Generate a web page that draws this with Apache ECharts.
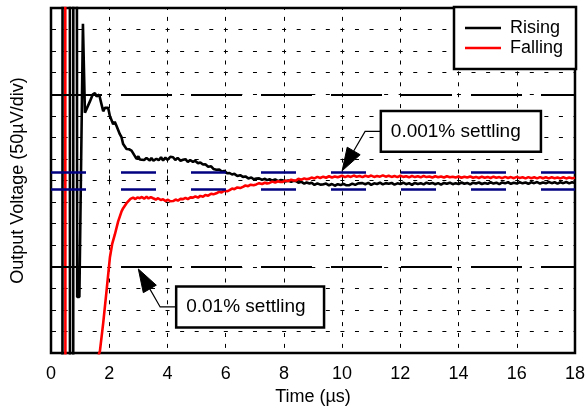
<!DOCTYPE html>
<html><head><meta charset="utf-8">
<script src="https://cdn.jsdelivr.net/npm/echarts@6/dist/echarts.min.js"></script>
<style>html,body{margin:0;padding:0;background:#fff}#c{width:588px;height:411px}</style>
</head><body><div id="c"></div>
<script>
// Time axis ticks (µs)
const xTicks = [0, 2, 4, 6, 8, 10, 12, 14, 16, 18];
// Vertical range in divisions (50 µV/div), centred on final value
const yDivs = [-8, 8];
// Settling bands (divisions)
const band001 = 0.4;   // 0.001% settling
const band01 = 4;      // 0.01% settling

const seriesNames = ['Rising', 'Falling'];

// Rising trace: [time µs, divisions]
const rising = [
 [0,-30],[0.39,-30],[0.40,30],[0.645,30],[0.655,-30],[0.76,-30],[0.77,30],[0.875,30],[0.90,-5.4],[0.975,-5.4],
 [1.097,7.27],[1.166,3.14],[1.224,3.21],[1.337,3.67],[1.43,3.98],[1.508,4.05],[1.567,3.90],[1.656,3.98],[1.738,3.52],
 [1.793,3.21],[1.851,3.37],[1.964,3.37],[2.022,2.99],[2.136,2.61],[2.19,2.72],[2.252,2.53],[2.365,2.15],[2.42,2.02],
 [2.479,1.69],[2.595,1.46],[2.68,1.45],[2.767,1.39],[2.85,1.2],[2.938,1.01],[3.0,1.12],[3.05,0.98],[3.109,1.04],
 [3.2,0.95],[3.28,1.05],[3.394,0.93],[3.45,1.05],[3.52,0.92],[3.624,1.01],[3.7,0.94],[3.78,1.08],[3.85,0.93],
 [3.93,1.06],[4.0,0.96],[4.1,1.1],[4.193,1.08],[4.27,0.95],[4.35,1.05],[4.45,0.92],[4.536,0.96],[4.62,0.99],
 [4.7,0.86],[4.78,0.95],[4.878,0.87],[4.95,0.92],[5.05,0.8],[5.13,0.84],[5.221,0.74],[5.3,0.76],[5.4,0.64],
 [5.5,0.66],[5.58,0.54],[5.68,0.5],[5.78,0.51],[5.88,0.41],[5.95,0.45],[6.05,0.34],[6.136,0.35],[6.22,0.28],
 [6.3,0.31],[6.4,0.21],[6.5,0.25],[6.592,0.17],[6.68,0.19],[6.78,0.1],[6.88,0.14],[6.96,0.06],[7.052,0.09],
 [7.15,0.1],[7.25,0.03],[7.35,0.08],[7.42,0.02],[7.508,0.06],[7.6,0.0],[7.7,0.05],[7.8,-0.03],[7.88,0.02],
 [7.964,0.01],[8.05,-0.04],[8.15,0.0],[8.25,-0.06],[8.33,-0.01],[8.423,-0.03],[8.5,-0.1],[8.6,-0.06],[8.7,-0.14],
 [8.78,-0.09],[8.879,-0.14],[8.95,-0.1],[9.05,-0.2],[9.15,-0.13],[9.25,-0.19],[9.335,-0.18],[9.45,-0.14],
 [9.55,-0.22],[9.65,-0.16],[9.75,-0.24],[9.85,-0.17],[9.95,-0.21],[10.05,-0.15],[10.15,-0.22],[10.25,-0.21],
 [10.35,-0.14],[10.45,-0.2],[10.55,-0.13],
 [10.6,-0.19],[10.7,-0.12],[10.8,-0.17],[10.9,-0.11],[11.0,-0.2],[11.1,-0.13],[11.2,-0.16],[11.3,-0.1],[11.4,-0.18],
 [11.5,-0.12],[11.6,-0.15],[11.7,-0.11],[11.8,-0.19],[11.9,-0.13],[12.0,-0.16],[12.1,-0.1],[12.2,-0.17],[12.3,-0.12],
 [12.4,-0.2],[12.5,-0.11],[12.6,-0.16],[12.7,-0.12],[12.8,-0.18],[12.9,-0.1],[13.0,-0.15],[13.1,-0.11],[13.2,-0.17],
 [13.3,-0.12],[13.4,-0.19],[13.5,-0.11],[13.6,-0.15],[13.7,-0.1],[13.8,-0.17],[13.9,-0.12],[14.0,-0.16],[14.1,-0.09],
 [14.2,-0.15],[14.3,-0.11],[14.4,-0.18],[14.5,-0.1],[14.6,-0.14],[14.7,-0.09],[14.8,-0.16],[14.9,-0.11],[15.0,-0.15],
 [15.1,-0.08],[15.2,-0.14],[15.3,-0.1],[15.4,-0.17],[15.5,-0.09],[15.6,-0.13],[15.7,-0.08],[15.8,-0.15],[15.9,-0.1],
 [16.0,-0.14],[16.1,-0.08],[16.2,-0.13],[16.3,-0.09],[16.4,-0.15],[16.5,-0.08],[16.6,-0.12],[16.7,-0.07],[16.8,-0.14],
 [16.9,-0.09],[17.0,-0.13],[17.1,-0.07],[17.2,-0.12],[17.3,-0.08],[17.4,-0.14],[17.5,-0.08],[17.6,-0.12],[17.7,-0.07],
 [17.8,-0.13],[17.9,-0.08],[18.0,-0.11]
];

// Falling trace: [time µs, divisions]
const falling = [
 [0,30],[0.485,30],[0.50,-30],[1.60,-30],[1.646,-8.05],[1.68,-7.91],[1.793,-6.61],[1.91,-5.09],[2.023,-3.57],
 [2.1,-2.95],[2.194,-2.50],[2.307,-1.89],[2.424,-1.43],[2.479,-1.28],[2.595,-1.05],[2.65,-0.97],[2.73,-0.85],
 [2.821,-0.79],[2.9,-0.86],[2.97,-0.78],[3.051,-0.82],[3.12,-0.76],[3.2,-0.84],[3.281,-0.75],[3.35,-0.83],[3.43,-0.77],
 [3.507,-0.82],[3.6,-0.88],[3.68,-0.82],[3.77,-0.9],[3.85,-0.87],[3.93,-0.95],[4.02,-0.89],[4.1,-0.96],[4.193,-0.95],
 [4.28,-0.88],[4.36,-0.93],[4.45,-0.85],[4.536,-0.86],[4.62,-0.8],[4.7,-0.86],[4.79,-0.78],[4.878,-0.79],[4.96,-0.73],
 [5.05,-0.79],[5.13,-0.71],[5.221,-0.75],[5.3,-0.67],[5.4,-0.7],[5.5,-0.61],[5.58,-0.64],[5.68,-0.59],[5.77,-0.52],
 [5.86,-0.55],[5.95,-0.47],[6.05,-0.5],[6.136,-0.44],[6.22,-0.37],[6.3,-0.4],[6.4,-0.32],[6.5,-0.35],[6.592,-0.29],
 [6.68,-0.23],[6.77,-0.26],[6.86,-0.19],[6.96,-0.22],[7.052,-0.18],[7.15,-0.12],[7.25,-0.16],[7.35,-0.1],[7.42,-0.14],
 [7.508,-0.11],[7.6,-0.05],[7.7,-0.09],[7.8,-0.03],[7.88,-0.07],[7.964,-0.06],[8.05,0.0],[8.15,-0.03],[8.25,0.04],
 [8.33,0.0],[8.423,0.01],[8.5,0.08],[8.6,0.04],[8.7,0.1],[8.78,0.06],[8.879,0.09],[8.95,0.14],[9.05,0.1],[9.15,0.17],
 [9.25,0.12],[9.35,0.18],[9.45,0.13],[9.55,0.2],[9.65,0.14],[9.75,0.19],[9.85,0.15],
 [9.9,0.17],[10.0,0.22],[10.1,0.16],[10.2,0.21],[10.3,0.17],[10.4,0.23],[10.5,0.18],[10.6,0.21],[10.7,0.16],[10.8,0.22],
 [10.9,0.18],[11.0,0.23],[11.1,0.17],[11.2,0.21],[11.3,0.18],[11.4,0.24],[11.5,0.18],[11.6,0.22],[11.7,0.17],[11.8,0.21],
 [11.9,0.16],[12.0,0.22],[12.1,0.17],[12.2,0.2],[12.3,0.15],[12.4,0.21],[12.5,0.16],[12.6,0.2],[12.7,0.15],[12.8,0.21],
 [12.9,0.16],[13.0,0.19],[13.1,0.14],[13.2,0.2],[13.3,0.15],[13.4,0.19],[13.5,0.14],[13.6,0.2],[13.7,0.15],[13.8,0.18],
 [13.9,0.14],[14.0,0.19],[14.1,0.13],[14.2,0.18],[14.3,0.14],[14.4,0.19],[14.5,0.13],[14.6,0.17],[14.7,0.12],[14.8,0.18],
 [14.9,0.13],[15.0,0.17],[15.1,0.12],[15.2,0.18],[15.3,0.13],[15.4,0.16],[15.5,0.11],[15.6,0.17],[15.7,0.12],[15.8,0.16],
 [15.9,0.11],[16.0,0.17],[16.1,0.12],[16.2,0.15],[16.3,0.1],[16.4,0.16],[16.5,0.11],[16.6,0.15],[16.7,0.1],[16.8,0.16],
 [16.9,0.11],[17.0,0.15],[17.1,0.1],[17.2,0.15],[17.3,0.11],[17.4,0.14],[17.5,0.1],[17.6,0.15],[17.7,0.1],[17.8,0.14],
 [17.9,0.11],[18.0,0.13]
];

// Annotations (data coordinates): arrow tip, bend of leader, box [left, top, right, bottom]
const annotations = [
  { text: '0.001% settling', tip: [10.0, 0.45], bend: [10.79, 2.28], box: [11.33, 3.22, 16.83, 1.34] },
  { text: '0.01% settling',  tip: [3.0, -4.1],  bend: [3.75, -5.86], box: [4.30, -4.91, 9.38, -6.81] }
];

const FONT = '"Liberation Sans", Arial, Helvetica, sans-serif';
const chart = echarts.init(document.getElementById('c'), null, { renderer: 'canvas' });

const xMin = xTicks[0], xMax = xTicks[xTicks.length - 1], xStep = xTicks[1] - xTicks[0];

const option = {
  animation: false,
  backgroundColor: '#fff',
  grid: { left: 51, right: 13, top: 8, bottom: 54, show: true, borderColor: '#000', borderWidth: 2.5, backgroundColor: 'transparent' },
  legend: {
    data: seriesNames, orient: 'vertical', left: 454, top: 7,
    padding: [12, 13, 12, 11], itemWidth: 36, itemHeight: 2.5, itemGap: 2,
    icon: 'rect',
    borderColor: '#000', borderWidth: 2.5, backgroundColor: '#fff', borderRadius: 0,
    textStyle: { fontSize: 18, color: '#000', fontFamily: FONT, padding: [0, 0, 0, 4] }
  },
  xAxis: {
    type: 'value', min: xMin, max: xMax, interval: xStep,
    name: 'Time (µs)', nameLocation: 'middle', nameGap: 32,
    nameTextStyle: { fontSize: 18, color: '#000', fontFamily: FONT },
    axisLine: { show: false },
    axisTick: { show: true, inside: true, length: 5, lineStyle: { color: '#000', width: 1 } },
    axisLabel: { fontSize: 18, color: '#000', fontFamily: FONT, margin: 12 },
    splitLine: { show: true, lineStyle: { color: '#000', width: 1, type: [4, 6.9], dashOffset: 2 } }
  },
  yAxis: {
    type: 'value', min: yDivs[0], max: yDivs[1], interval: 1,
    name: 'Output Voltage (50µV/div)', nameLocation: 'middle', nameGap: 24,
    nameTextStyle: { fontSize: 18, color: '#000', fontFamily: FONT },
    axisLine: { show: false },
    axisTick: { show: true, inside: true, length: 5, lineStyle: { color: '#000', width: 1 } },
    axisLabel: { show: false },
    splitLine: { show: true, lineStyle: { color: '#000', width: 1, type: [4, 10.57], dashOffset: 2 } }
  },
  series: [
    {
      name: 'bands', type: 'line', data: [], silent: true,
      markLine: {
        silent: true, symbol: ['none', 'none'], label: { show: false }, animation: false,
        data: [
          [{ coord: [xMin, band01], lineStyle: { color: '#000', width: 2.2, type: [51, 19] } }, { coord: [xMax, band01] }],
          [{ coord: [xMin, -band01], lineStyle: { color: '#000', width: 2.2, type: [51, 19] } }, { coord: [xMax, -band01] }],
          [{ coord: [xMin, band001], lineStyle: { color: '#000080', width: 2.5, type: [35, 35] } }, { coord: [xMax, band001] }],
          [{ coord: [xMin, -band001], lineStyle: { color: '#000080', width: 2.5, type: [35, 35] } }, { coord: [xMax, -band001] }]
        ]
      }
    },
    { name: 'Rising', type: 'line', data: rising, symbol: 'none', showSymbol: false, clip: true,
      lineStyle: { color: '#000', width: 2.6 }, itemStyle: { color: '#000' } },
    { name: 'Falling', type: 'line', data: falling, symbol: 'none', showSymbol: false, clip: true,
      lineStyle: { color: '#ff0000', width: 2.6 }, itemStyle: { color: '#ff0000' } }
  ]
};
chart.setOption(option);

function px(p) { return chart.convertToPixel({ gridIndex: 0 }, p); }
const graphics = [];
annotations.forEach(a => {
  const p1 = px([a.box[0], a.box[1]]), p2 = px([a.box[2], a.box[3]]);
  const midY = (p1[1] + p2[1]) / 2;
  const T = px(a.tip), B = px(a.bend);
  B[1] = midY;
  const dx = T[0] - B[0], dy = T[1] - B[1], L = Math.hypot(dx, dy);
  const ux = dx / L, uy = dy / L, nx = -uy, ny = ux;
  const headLen = 23, headW = 7.5;
  const C = [T[0] - ux * headLen, T[1] - uy * headLen];
  graphics.push({ type: 'polyline', z: 100, shape: { points: [[p1[0], midY], B, C] }, style: { stroke: '#000', lineWidth: 1.2, fill: null } });
  graphics.push({ type: 'polygon', z: 100, shape: { points: [T, [C[0] + nx * headW, C[1] + ny * headW], [C[0] - nx * headW, C[1] - ny * headW]] }, style: { fill: '#000', stroke: '#000', lineWidth: 1 } });
  graphics.push({ type: 'rect', z: 100, shape: { x: p1[0], y: p1[1], width: p2[0] - p1[0], height: p2[1] - p1[1] }, style: { fill: '#fff', stroke: '#000', lineWidth: 2.5 } });
  graphics.push({ type: 'text', z: 101, style: { text: a.text, x: p1[0] + 10, y: midY, verticalAlign: 'middle', align: 'left', font: '19px ' + FONT, fill: '#000' } });
});
chart.setOption({ graphic: graphics });
</script>
</body></html>
